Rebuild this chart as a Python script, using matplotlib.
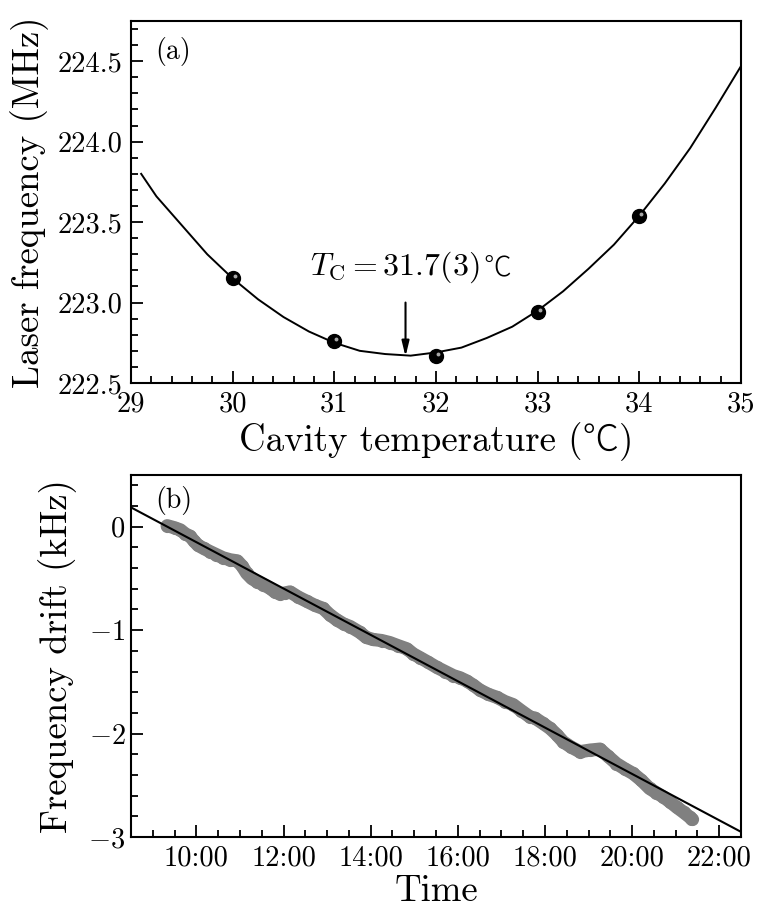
import matplotlib
matplotlib.use("Agg")
import matplotlib.pyplot as plt
from matplotlib import transforms
from matplotlib.ticker import MultipleLocator, FixedLocator

plt.rcParams['font.family'] = ['cmr10', 'Noto Sans CJK JP', 'DejaVu Serif']
plt.rcParams['mathtext.fontset'] = 'cm'
plt.rcParams['axes.unicode_minus'] = False
plt.rcParams['axes.formatter.use_mathtext'] = True

# ---------------- data: panel (a) ----------------
meas_temp = [30, 31, 32, 33, 34]
meas_freq = [223.15, 222.76, 222.67, 222.94, 223.54]

fit_temp = [29.1, 29.25, 29.5, 29.75, 30.0, 30.25, 30.5, 30.75, 31.0, 31.25,
            31.5, 31.75, 32.0, 32.25, 32.5, 32.75, 33.0, 33.25, 33.5, 33.75,
            34.0, 34.25, 34.5, 34.75, 35.0]
fit_freq = [223.80, 223.66, 223.48, 223.30, 223.15, 223.02, 222.91, 222.82,
            222.75, 222.70, 222.68, 222.67, 222.69, 222.72, 222.78, 222.85,
            222.95, 223.07, 223.21, 223.36, 223.54, 223.74, 223.96, 224.21,
            224.47]

temp_ticks = [29, 30, 31, 32, 33, 34, 35]
temp_labels = ['29', '30', '31', '32', '33', '34', '35']
freq_ticks = [222.5, 223.0, 223.5, 224.0, 224.5]
freq_labels = ['222.5', '223.0', '223.5', '224.0', '224.5']

tc_value = 31.7
tc_arrow_top = 223.0
tc_arrow_tip = 222.665

# ---------------- data: panel (b) ----------------
drift_time = [9.33, 9.50, 9.63, 9.75, 9.85, 9.95, 10.04, 10.17, 10.31, 10.46,
              10.61, 10.78, 10.94, 11.05, 11.155, 11.27, 11.385, 11.54, 11.69,
              11.80, 11.92, 12.04, 12.15, 12.34, 12.53, 12.72, 12.91, 13.06,
              13.22, 13.38, 13.53, 13.75, 13.90, 14.05, 14.25, 14.44, 14.63,
              14.83, 14.98, 15.13, 15.32, 15.52, 15.71, 15.90, 16.05, 16.20,
              16.35, 16.51, 16.70, 16.90, 17.08, 17.27, 17.46, 17.66, 17.77,
              17.95, 18.12, 18.27, 18.42, 18.60, 18.80, 19.03, 19.26, 19.45,
              19.64, 19.83, 20.02, 20.21, 20.40, 20.55, 20.71, 20.87, 21.02,
              21.18, 21.33, 21.37]
drift_khz = [0.01, -0.01, -0.03, -0.07, -0.09, -0.14, -0.18, -0.21, -0.24, -0.27,
             -0.30, -0.32, -0.33, -0.38, -0.45, -0.50, -0.53, -0.56, -0.595,
             -0.63, -0.65, -0.64, -0.63, -0.68, -0.72, -0.76, -0.79, -0.85,
             -0.90, -0.94, -0.965, -1.02, -1.07, -1.09, -1.10, -1.12, -1.15,
             -1.18, -1.23, -1.265, -1.31, -1.36, -1.40, -1.44, -1.46, -1.49,
             -1.53, -1.58, -1.62, -1.65, -1.69, -1.72, -1.78, -1.84, -1.85,
             -1.90, -1.95, -2.01, -2.08, -2.13, -2.175, -2.16, -2.15, -2.22,
             -2.29, -2.34, -2.385, -2.45, -2.53, -2.57, -2.61, -2.66, -2.71,
             -2.76, -2.81, -2.83]

drift_fit_time = [8.5, 22.5]
drift_fit_khz = [0.187, -2.95]

time_ticks = [10, 12, 14, 16, 18, 20, 22]
time_labels = ['10:00', '12:00', '14:00', '16:00', '18:00', '20:00', '22:00']
drift_ticks = [-3, -2, -1, 0]
drift_labels = ['$-3$', '$-2$', '$-1$', '$0$']

# ---------------- figure ----------------
fig = plt.figure(figsize=(7.63, 9.13), dpi=100)
ax1 = fig.add_axes([0.1717, 0.5805, 0.7995, 0.3965])
ax2 = fig.add_axes([0.1717, 0.0832, 0.7995, 0.3965])

TICK_FS = 20.5
LABEL_FS = 26.5
DEG_FAMILY = ['Noto Sans CJK JP', 'DejaVu Serif']


def style(ax):
    for s in ax.spines.values():
        s.set_linewidth(1.5)
    ax.tick_params(which='both', direction='in', top=False, right=False,
                   width=1.3, labelsize=TICK_FS)
    ax.tick_params(which='major', length=8.5)
    ax.tick_params(which='minor', length=5)
    ax.tick_params(axis='x', pad=6)
    ax.tick_params(axis='y', pad=6)


# panel (a)
ax1.plot(fit_temp, fit_freq, color='black', lw=1.4, zorder=2)
ax1.plot(meas_temp, meas_freq, 'o', color='black', ms=10, zorder=3)
hl = transforms.offset_copy(ax1.transData, fig=fig, x=2.0, y=2.0, units='dots')
ax1.plot(meas_temp, meas_freq, 'o', color='#a8a8a8', ms=2.8, mew=0,
         transform=hl, zorder=4)
ax1.annotate('', xy=(tc_value, tc_arrow_tip), xytext=(tc_value, tc_arrow_top),
             arrowprops=dict(arrowstyle='-|>,head_length=0.9,head_width=0.22',
                             color='black', lw=1.5, shrinkA=0, shrinkB=0))
ax1.text(30.76, 223.17, r'$T_{\mathrm{C}}=31.7(3)$', ha='left',
         va='baseline', fontsize=23)
ax1.text(32.47, 223.17, '℃', ha='left', va='baseline', fontsize=20,
         family=DEG_FAMILY, fontweight='light')
ax1.text(0.04, 0.955, '(a)', transform=ax1.transAxes, ha='left', va='top',
         fontsize=20)

ax1.set_xlim(29, 35)
ax1.set_ylim(222.5, 224.75)
ax1.xaxis.set_major_locator(FixedLocator(temp_ticks))
ax1.set_xticklabels(temp_labels)
ax1.yaxis.set_major_locator(FixedLocator(freq_ticks))
ax1.set_yticklabels(freq_labels)
ax1.xaxis.set_minor_locator(MultipleLocator(0.2))
ax1.yaxis.set_minor_locator(MultipleLocator(0.1))
style(ax1)
ax1.set_xlabel('Cavity temperature (℃)', fontsize=LABEL_FS, labelpad=3,
               fontweight='light')
ax1.set_ylabel('Laser frequency (MHz)', fontsize=LABEL_FS, labelpad=6)

# panel (b)
ax2.plot(drift_time, drift_khz, '-', color='#808080', lw=9.5,
         solid_capstyle='round', solid_joinstyle='round', zorder=2)
ax2.plot(drift_time, drift_khz, 'o', color='#808080', ms=9.5, mew=0, zorder=2)
ax2.plot(drift_fit_time, drift_fit_khz, color='black', lw=1.5, zorder=3)
ax2.text(0.04, 0.97, '(b)', transform=ax2.transAxes, ha='left', va='top',
         fontsize=20)

ax2.set_xlim(8.5, 22.5)
ax2.set_ylim(-3, 0.5)
ax2.xaxis.set_major_locator(FixedLocator(time_ticks))
ax2.set_xticklabels(time_labels)
ax2.yaxis.set_major_locator(FixedLocator(drift_ticks))
ax2.set_yticklabels(drift_labels)
ax2.xaxis.set_minor_locator(MultipleLocator(0.5))
ax2.yaxis.set_minor_locator(MultipleLocator(0.2))
style(ax2)
ax2.tick_params(axis='y', pad=4)
ax2.set_xlabel('Time', fontsize=LABEL_FS, labelpad=2)
ax2.set_ylabel('Frequency drift (kHz)', fontsize=LABEL_FS, labelpad=8)

fig.savefig('out.png', dpi=100)
